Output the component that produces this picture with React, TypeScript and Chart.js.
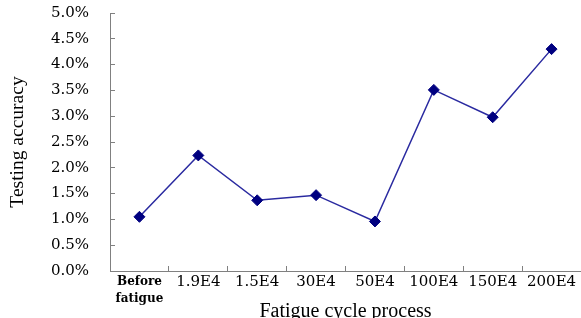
import React, { useEffect, useRef } from "react";
import { Chart, registerables } from "chart.js";

Chart.register(...registerables);

const categories: (string | string[])[] = [
  ["Before", "fatigue"],
  "1.9E4",
  "1.5E4",
  "30E4",
  "50E4",
  "100E4",
  "150E4",
  "200E4",
];
const accuracy: number[] = [1.05, 2.24, 1.37, 1.47, 0.96, 3.51, 2.98, 4.3];
const yMin = 0;
const yMax = 5;
const yStep = 0.5;
const xTitle = "Fatigue cycle process";
const yTitle = "Testing accuracy";

export default function App() {
  const ref = useRef<HTMLCanvasElement | null>(null);
  useEffect(() => {
    document.body.style.margin = "0";
    const canvas = ref.current;
    if (!canvas) return;
    const axisColor = "#808080";
    const chart = new Chart(canvas, {
      type: "line",
      data: {
        labels: categories,
        datasets: [
          {
            data: accuracy,
            borderColor: "#2a2aa0",
            borderWidth: 1.5,
            pointStyle: "rectRot",
            pointRadius: 5.5,
            pointBackgroundColor: "#000080",
            pointBorderColor: "#000080",
            pointBorderWidth: 1,
            tension: 0,
            clip: false,
          },
        ],
      },
      options: {
        animation: false,
        responsive: false,
        maintainAspectRatio: false,
        events: [],
        layout: { autoPadding: false, padding: { top: 13, right: 0, bottom: 0, left: 0 } },
        plugins: {
          legend: { display: false },
          tooltip: { enabled: false },
          title: { display: false },
        },
        scales: {
          x: {
            type: "category",
            offset: true,
            grid: {
              offset: true,
              drawOnChartArea: false,
              drawTicks: true,
              tickLength: -5,
              color: axisColor,
            },
            border: { color: axisColor, width: 1 },
            ticks: {
              padding: 7,
              color: "#000",
              maxRotation: 0,
              autoSkip: false,
              font: (ctx: any) =>
                ctx.index === 0
                  ? { family: "'DejaVu Serif'", size: 12, weight: "bold", lineHeight: "17px" }
                  : { family: "'DejaVu Serif'", size: 15, lineHeight: 1.2 },
            },
            title: {
              display: true,
              text: xTitle,
              color: "#000",
              font: { family: "'Liberation Serif'", size: 20, lineHeight: 1 },
              padding: { top: 0, bottom: -4 },
            },
            afterFit: (s: any) => {
              s.height = 47;
              s.paddingLeft = 0;
              s.paddingRight = 0;
            },
          },
          y: {
            min: yMin,
            max: yMax,
            grid: {
              drawOnChartArea: false,
              drawTicks: true,
              tickLength: -5,
              color: axisColor,
            },
            border: { color: axisColor, width: 1 },
            ticks: {
              stepSize: yStep,
              padding: 26,
              color: "#000",
              font: { family: "'DejaVu Serif'", size: 15 },
              callback: (v: any) => Number(v).toFixed(1) + "%",
            },
            title: {
              display: true,
              text: yTitle,
              color: "#000",
              font: { family: "'Liberation Serif'", size: 19.5, lineHeight: 1.2 },
              padding: { top: 6, bottom: 0 },
            },
            afterFit: (s: any) => {
              s.width = 110;
              s.paddingTop = 0;
              s.paddingBottom = 0;
            },
          },
        },
      },
    });
    return () => chart.destroy();
  }, []);
  return (
    <div style={{ position: "absolute", left: 0, top: 0, width: 581, height: 318 }}>
      <canvas ref={ref} width={581} height={318} style={{ width: 581, height: 318 }} />
    </div>
  );
}
